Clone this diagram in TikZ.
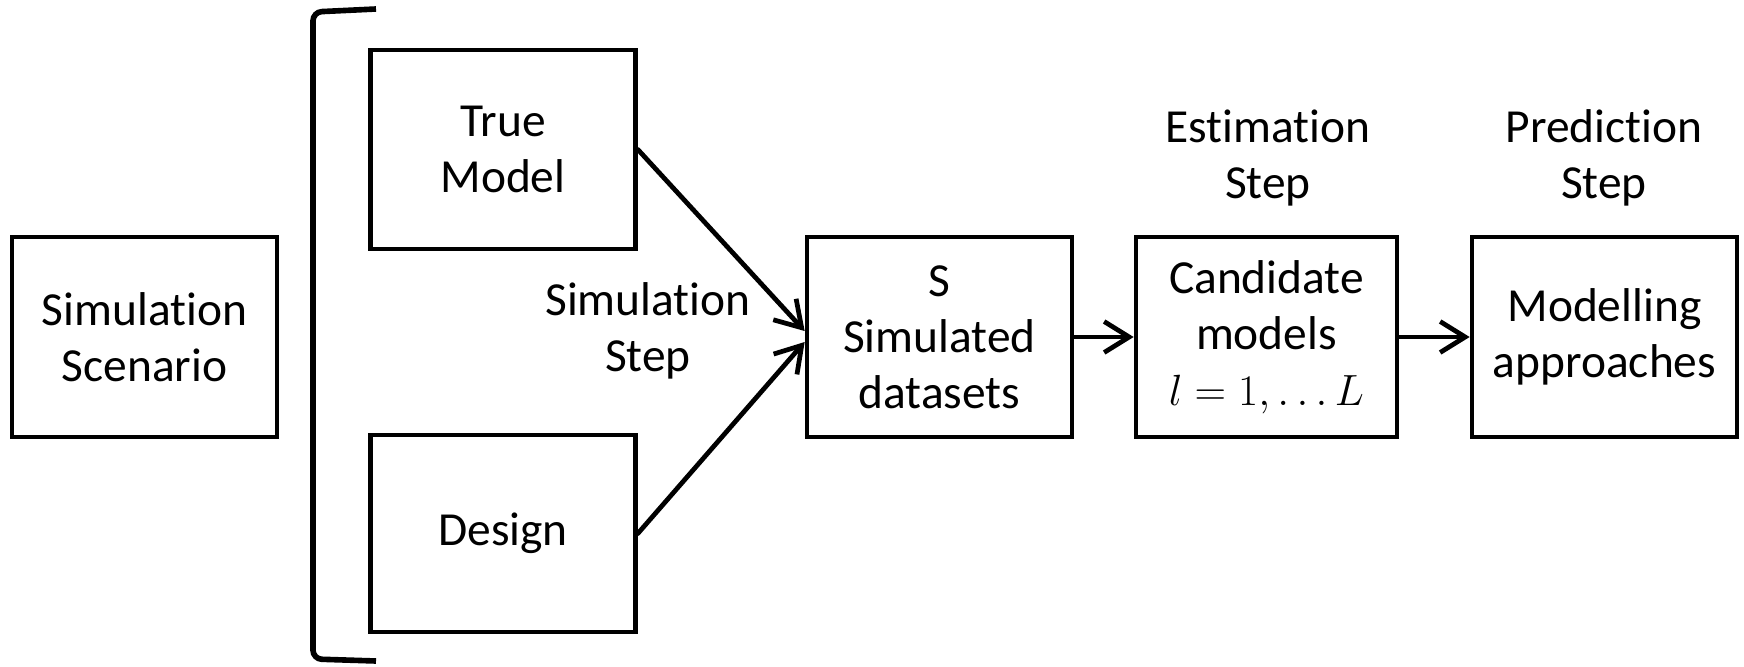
\documentclass[tikz,border=0pt]{standalone}
\usepackage{fontspec}
\setmainfont[RawFeature={-liga;-clig;-dlig;-calt;-ccmp;-rlig;-hlig}]{Carlito}
\usetikzlibrary{arrows.meta}

\tikzset{
  stepbox/.style={draw,line width=2.7pt,minimum width=5.3cm,minimum height=4cm,align=center,inner sep=0pt},
  steplabel/.style={align=center,inner sep=0pt},
  flow/.style={line width=2.7pt,line cap=round,-{Straight Barb[length=0.5cm,width=0.62cm,line width=2.7pt]}}
}

\begin{document}
\begin{tikzpicture}[x=0.02cm,y=-0.02cm,font=\fontsize{27}{32}\selectfont]
\useasboundingbox (0,0) rectangle (1744,666);

% boxes
\node[stepbox] (scen) at (144.5,337) {Simulation\\Scenario};
\node[stepbox,minimum height=3.98cm] (truem) at (503,149.5) {True\\Model};
\node[stepbox,minimum height=3.94cm] (design) at (503,533.5) {Design};
\node[stepbox] (simd) at (939.5,337) {S\\Simulated\\datasets};
\node[stepbox,minimum width=5.22cm] (cand) at (1266.5,337) {Candidate\\models\\$l=1,\ldots L$};
\node[stepbox] (appr) at (1604.5,337) {Modelling\\approaches};

% step labels
\node[steplabel] (simlab) at (648,331) {Simulation\\Step};
\node[steplabel] (estlab) at (1268,158) {Estimation\\Step};
\node[steplabel] (predlab) at (1604,158) {Prediction\\Step};

% bracket
\draw[line width=3.2pt,rounded corners=5pt] (376,9) -- (313,12) -- (313,659) -- (376,661);

% arrows
\draw[flow] (truem.east) -- ([yshift=0.12cm]simd.west);
\draw[flow] (design.east) -- ([yshift=-0.1cm]simd.west);
\draw[flow] (simd.east) -- (cand.west);
\draw[flow] (cand.east) -- (appr.west);
\end{tikzpicture}
\end{document}
